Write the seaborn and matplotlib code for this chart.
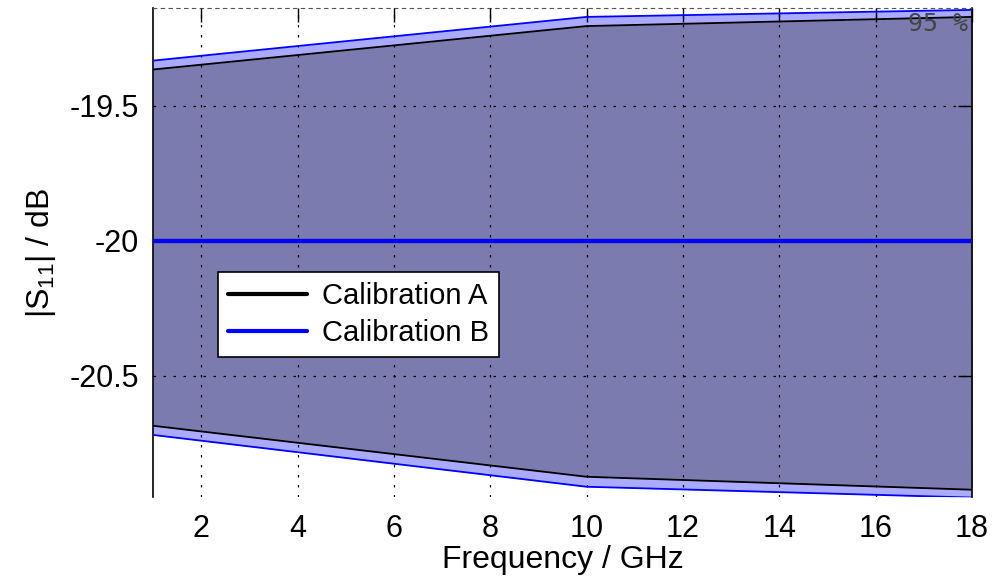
import numpy as np
import pandas as pd
import matplotlib
matplotlib.use("Agg")
import matplotlib.pyplot as plt
import seaborn as sns
from matplotlib.lines import Line2D

# ---- data ----
freq = [1, 10, 18]                      # GHz
mean_a = [-20.0, -20.0, -20.0]
mean_b = [-20.0, -20.0, -20.0]
upper_a = [-19.366, -19.205, -19.171]
lower_a = [-20.686, -20.875, -20.923]
upper_b = [-19.333, -19.171, -19.145]
lower_b = [-20.720, -20.912, -20.952]
series_names = ["Calibration A", "Calibration B"]
xticks = [2, 4, 6, 8, 10, 12, 14, 16, 18]
yticks = [-20.5, -20.0, -19.5]
ytick_labels = ["-20.5", "-20", "-19.5"]
conf_label = "95 %"

sns.set_style("white")
plt.rcParams["font.family"] = ["Liberation Sans", "DejaVu Sans"]
plt.rcParams["mathtext.fontset"] = "custom"
plt.rcParams["mathtext.rm"] = "Liberation Sans"
plt.rcParams["mathtext.it"] = "Liberation Sans:italic"
plt.rcParams["text.color"] = "black"
plt.rcParams["axes.labelcolor"] = "black"
plt.rcParams["xtick.color"] = "black"
plt.rcParams["ytick.color"] = "black"

fig = plt.figure(figsize=(9.92, 5.78), dpi=100)
ax = fig.add_axes([153/992, 1-497/578, (972-153)/992, (497-8)/578])
ax.set_facecolor("white")

# confidence bands
ax.fill_between(freq, lower_b, upper_b, color="#aaaaff", lw=0, zorder=1)
ax.fill_between(freq, lower_a, upper_a, color="#7b7bb0", lw=0, zorder=1.1)
for up, lo, c in [(upper_b, lower_b, "#0000ff"), (upper_a, lower_a, "black")]:
    ax.plot(freq, up, color=c, lw=1.3, zorder=3)
    ax.plot(freq, lo, color=c, lw=1.3, zorder=3)

df = pd.DataFrame({
    "Frequency": freq * 2,
    "S11": mean_a + mean_b,
    "Series": [series_names[0]] * len(freq) + [series_names[1]] * len(freq),
})
sns.lineplot(data=df, x="Frequency", y="S11", hue="Series",
             palette={series_names[0]: "black", series_names[1]: "#0000ff"},
             linewidth=3, ax=ax, zorder=4, legend=False)

ax.set_xlim(1, 18)
ax.set_ylim(-20.95, -19.138)
ax.set_xticks(xticks)
ax.set_yticks(yticks)
ax.set_yticklabels(ytick_labels)
ax.tick_params(axis="both", which="major", direction="in", length=10, width=1,
               labelsize=22, top=True, right=True, color="black",
               labelcolor="black")
ax.tick_params(axis="x", pad=12)
ax.tick_params(axis="y", pad=10)

ax.grid(True, color="black", linestyle=(0, (2, 6)), linewidth=0.9, zorder=2)
ax.set_axisbelow(False)

ax.set_xlabel("Frequency / GHz", fontsize=23, labelpad=1, color="black")
ax.set_ylabel(r"|S$_\mathregular{11}$| / dB", fontsize=23, labelpad=8,
              color="black")

for s in ["left", "right"]:
    ax.spines[s].set_color("black")
    ax.spines[s].set_linewidth(1.2)
ax.spines["top"].set_color("#555555")
ax.spines["top"].set_linestyle((0, (3, 4)))
ax.spines["bottom"].set_visible(False)

ax.text(0.922, 0.968, conf_label, transform=ax.transAxes, fontsize=18,
        family="DejaVu Sans Mono", color="#444444", ha="left", va="center",
        zorder=5)

handles = [Line2D([], [], color="black", lw=3), Line2D([], [], color="#0000ff", lw=3)]
leg = ax.legend(handles, series_names, loc="upper left",
                bbox_to_anchor=((218-153)/819, (497-272)/489),
                fontsize=21, frameon=True, fancybox=False, framealpha=1,
                edgecolor="black", handlelength=2.7, borderpad=0.35,
                labelspacing=0.3, handletextpad=0.5, borderaxespad=0)
leg.get_frame().set_linewidth(1.2)
leg.set_zorder(6)
for t in leg.get_texts():
    t.set_color("black")

fig.savefig("out.png", dpi=100)
